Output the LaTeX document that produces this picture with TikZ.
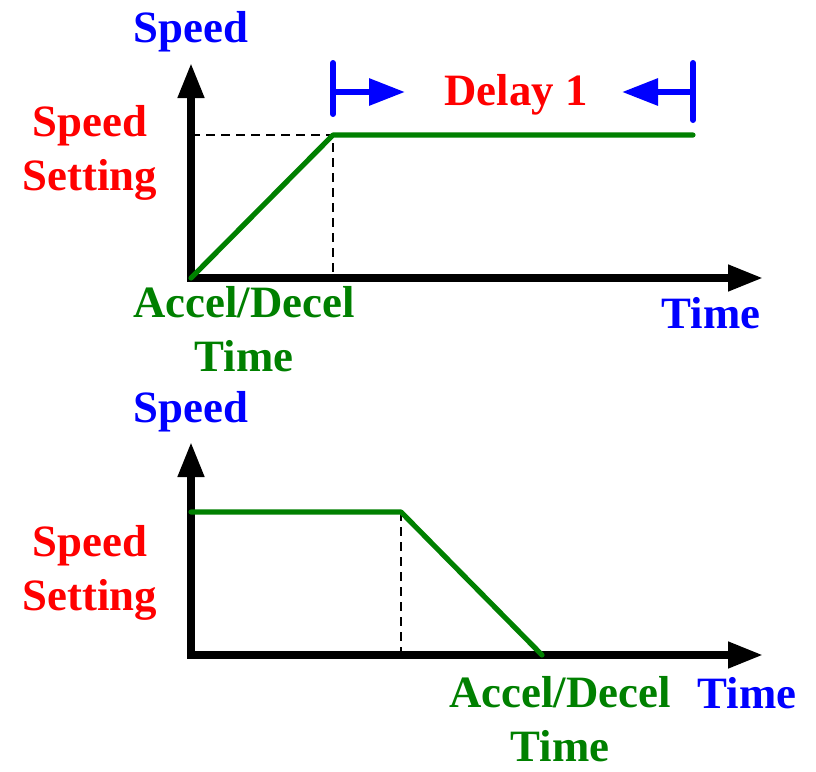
\documentclass[tikz,border=0pt]{standalone}
\usepackage{fontspec}
\setmainfont{Liberation Serif}
\usetikzlibrary{arrows.meta,positioning}
\definecolor{spdred}{RGB}{255,0,0}
\definecolor{spdblue}{RGB}{0,0,255}
\definecolor{spdgreen}{RGB}{0,128,0}
\tikzstyle{textonly} = [draw=none, fill=none, inner sep=0pt, align=center,
font=\bfseries\fontsize{22.4}{27}\selectfont]
\tikzstyle{redtext} = [textonly, text=spdred]
\tikzstyle{bluetext} = [textonly, text=spdblue]
\tikzstyle{greentext} = [textonly, text=spdgreen]
\tikzstyle{axis} = [draw, line width=3.75pt, line join=miter,
>={Triangle[length=17.5pt,width=12.5pt]}, <->]
\tikzstyle{profile} = [draw=spdgreen, line width=2.6pt, line join=round, line cap=round]
\tikzstyle{guide} = [draw, line width=0.7pt, dash pattern=on 4.5pt off 3pt]
\tikzstyle{delayedge} = [draw=spdblue, line width=3pt,
>={Triangle[length=18pt,width=13pt]}, ->]
\tikzstyle{delaybar} = [draw=spdblue, line width=3pt, line cap=round]

\begin{document}
\begin{tikzpicture}[x=0.5pt, y=-0.5pt]
\useasboundingbox (0,0) rectangle (816,772);

% upper chart: acceleration
\coordinate (originA) at (191,278);
\coordinate (ytipA) at (191,63);
\coordinate (xtipA) at (763,278);
\coordinate (levelA) at (191,135);
\coordinate (kneeA) at (333,135);
\coordinate (footA) at (333,278);
\coordinate (endA) at (693,135);

\draw[axis] (ytipA) -- (originA) -- (xtipA);
\draw[guide] (levelA) -- (kneeA) -- (footA);
\draw[profile] (originA) -- (kneeA) -- (endA);

\node[bluetext, anchor=base] (speedA) at (191,42) {Speed};
\node[redtext, anchor=north] (settingA) at (90,105) {Speed\\Setting};
\node[greentext, anchor=north] (accelA) at (244,286) {Accel/Decel\\Time};
\node[bluetext, anchor=base] (timeA) at (711,328) {Time};

% delay marker
\node[redtext, anchor=base] (delay) at (516,105) {Delay 1};
\coordinate (barLtop) at (333,63);
\coordinate (barLbot) at (333,114);
\coordinate (barRtop) at (693,63);
\coordinate (barRbot) at (693,120);
\coordinate (startL) at (333,92);
\coordinate (tipL) at (405,92);
\coordinate (startR) at (693,92);
\coordinate (tipR) at (622,92);

\draw[delaybar] (barLtop) -- (barLbot);
\draw[delaybar] (barRtop) -- (barRbot);
\draw[delayedge] (startL) -- (tipL);
\draw[delayedge] (startR) -- (tipR);

% lower chart: deceleration
\coordinate (originB) at (191,655);
\coordinate (ytipB) at (191,442);
\coordinate (xtipB) at (763,655);
\coordinate (levelB) at (191,512);
\coordinate (kneeB) at (401,512);
\coordinate (footB) at (401,655);
\coordinate (endB) at (542,655);

\draw[axis] (ytipB) -- (originB) -- (xtipB);
\draw[guide] (kneeB) -- (footB);
\draw[profile] (levelB) -- (kneeB) -- (endB);

\node[bluetext, anchor=base] (speedB) at (191,422) {Speed};
\node[redtext, anchor=north] (settingB) at (90,525) {Speed\\Setting};
\node[greentext, anchor=north] (accelB) at (560,676) {Accel/Decel\\Time};
\node[bluetext, anchor=base] (timeB) at (747,708) {Time};

\end{tikzpicture}
\end{document}
